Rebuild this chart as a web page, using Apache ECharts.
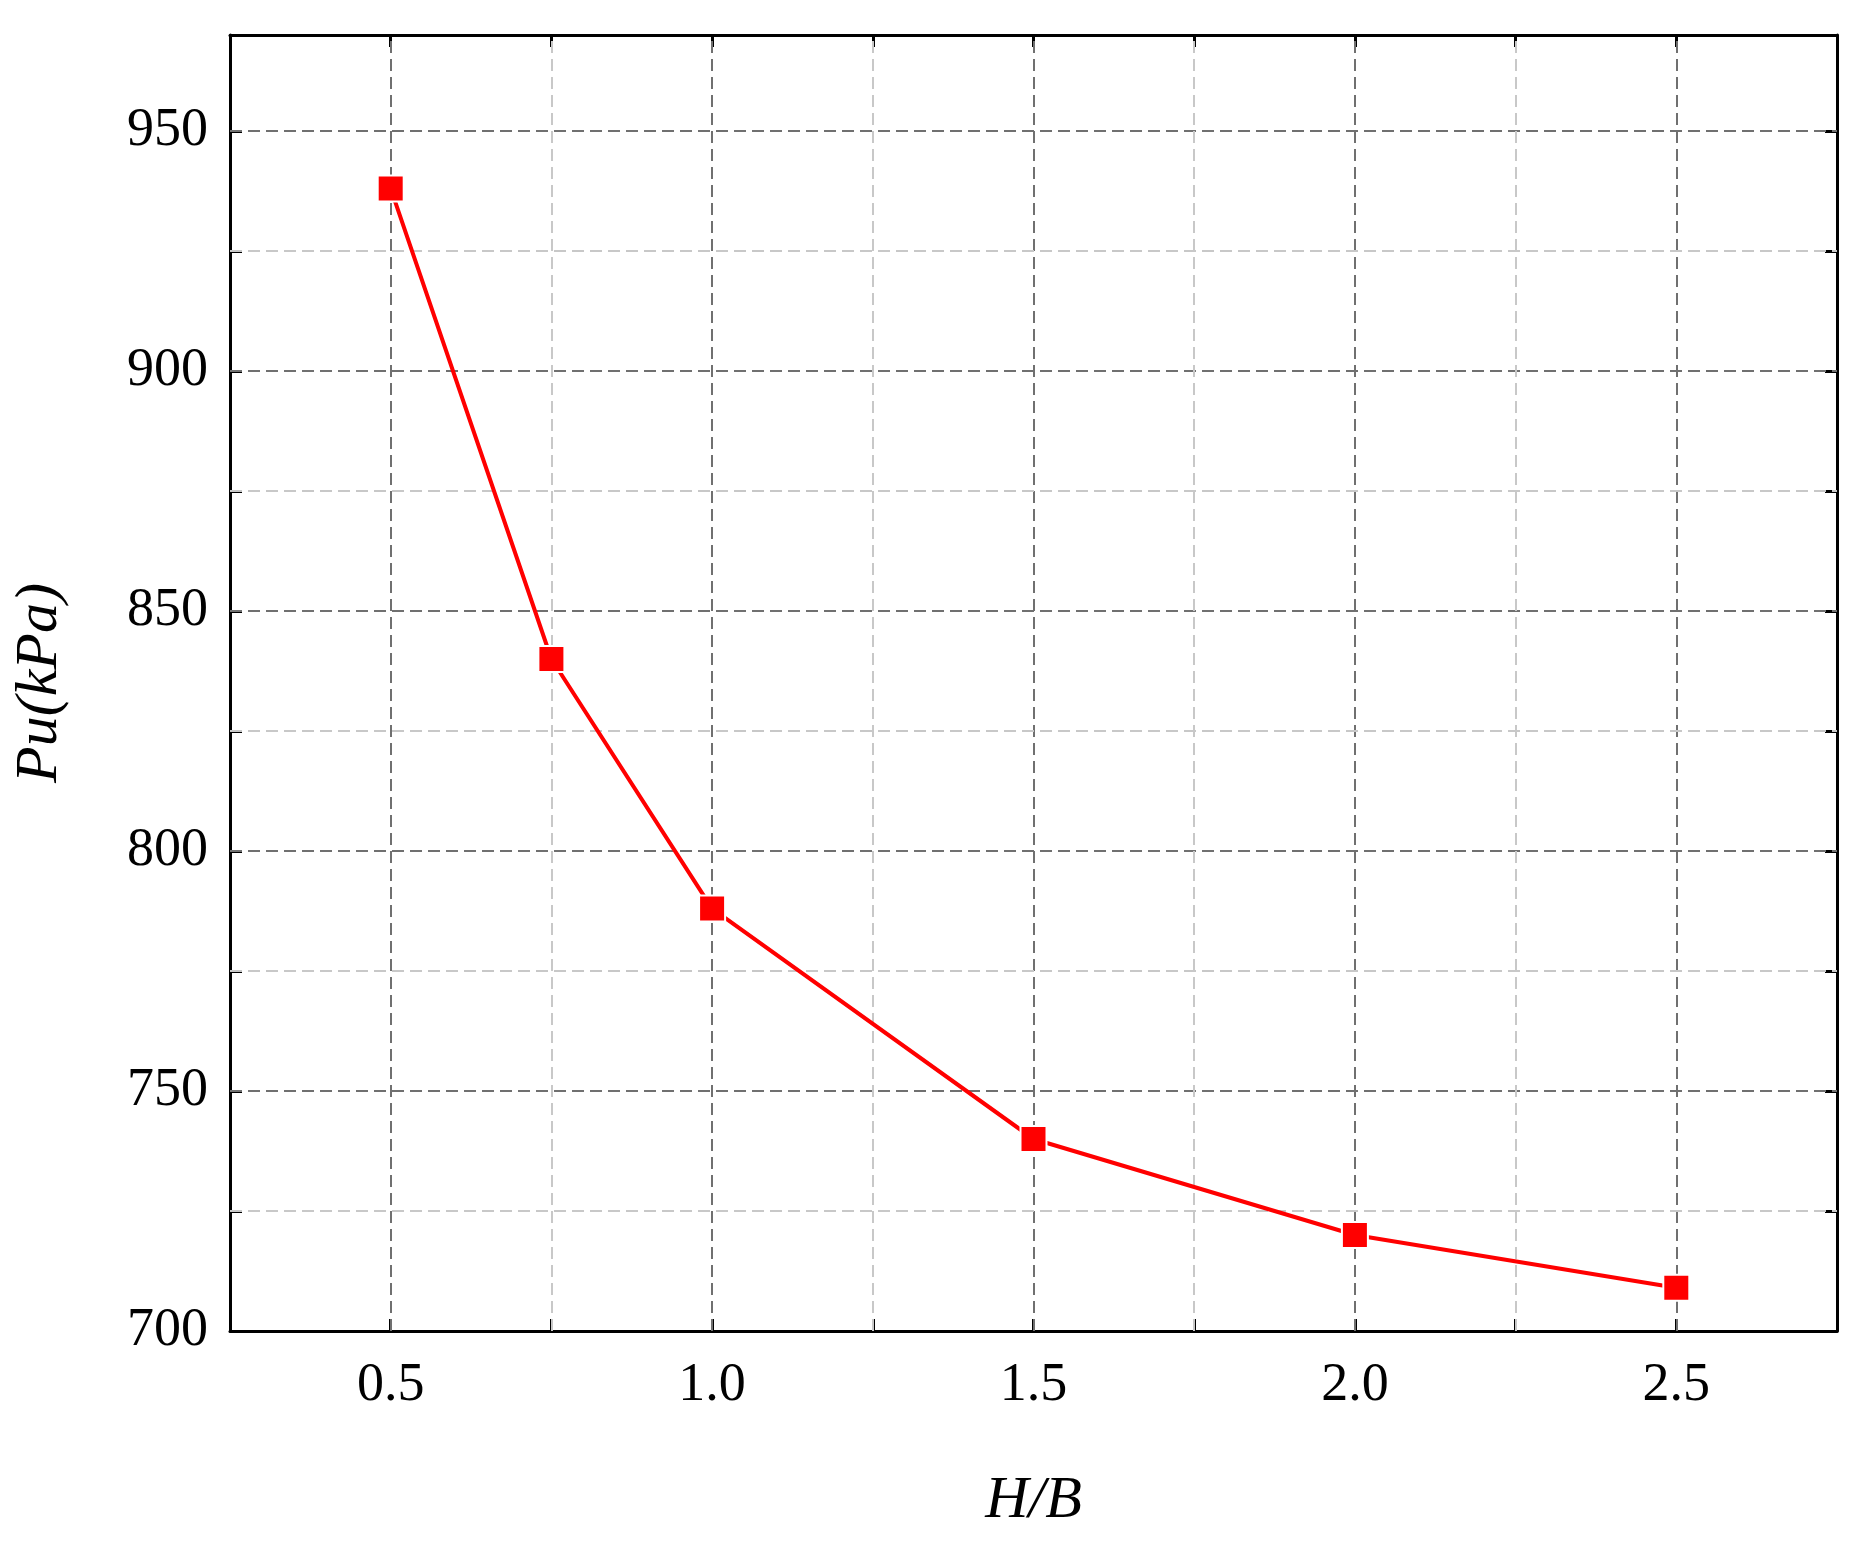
<!DOCTYPE html>
<html>
<head>
<meta charset="utf-8">
<script src="https://cdn.jsdelivr.net/npm/echarts@6/dist/echarts.min.js"></script>
<style>html,body{margin:0;background:#fff}#chart{width:1869px;height:1545px}</style>
</head>
<body>
<div id="chart"></div>
<script>
var ratio = [0.5, 0.75, 1.0, 1.5, 2.0, 2.5];
var pu = [938, 840, 788, 740, 720, 709];
var xMajor = [0.5, 1.0, 1.5, 2.0, 2.5];
var xMinor = [0.75, 1.25, 1.75, 2.25];
var yMajor = [700, 750, 800, 850, 900, 950];
var yMajorInner = [750, 800, 850, 900, 950];
var yMinor = [725, 775, 825, 875, 925];

var FONT = 'Liberation Serif';
var chart = echarts.init(document.getElementById('chart'));

var xBase = {
	type: 'value', min: 0.25, max: 2.75, interval: 0.25,
	axisLine: { onZero: false, lineStyle: { color: '#000', width: 3 } },
	axisTick: { inside: true, length: 12, lineStyle: { width: 3, color: '#000' } },
	splitLine: { show: false }
};
var yBase = {
	type: 'value', min: 700, max: 970, interval: 25,
	axisLine: { onZero: false, lineStyle: { color: '#000', width: 3 } },
	axisTick: { inside: true, length: 12, lineStyle: { width: 3, color: '#000' } },
	splitLine: { show: false }
};

var majorLines = xMajor.map(function (v) { return { xAxis: v }; })
	.concat(yMajorInner.map(function (v) { return { yAxis: v }; }));
var minorLines = xMinor.map(function (v) { return { xAxis: v }; })
	.concat(yMinor.map(function (v) { return { yAxis: v }; }));

chart.setOption({
	backgroundColor: '#fff',
	animation: false,
	grid: { left: 230, right: 32, top: 35, bottom: 214 },
	xAxis: [
		Object.assign({}, xBase, {
			position: 'bottom',
			name: 'H/B', nameLocation: 'middle', nameGap: 140,
			nameTextStyle: { fontFamily: FONT, fontStyle: 'italic', fontSize: 60, color: '#000' },
			axisLabel: { customValues: xMajor, margin: 28, fontFamily: FONT, fontSize: 54, color: '#000',
				formatter: function (v) { return v.toFixed(1); } }
		}),
		Object.assign({}, xBase, { position: 'top', axisLabel: { show: false } })
	],
	yAxis: [
		Object.assign({}, yBase, {
			position: 'left',
			name: 'Pu(kPa)', nameLocation: 'middle', nameGap: 160,
			nameTextStyle: { fontFamily: FONT, fontStyle: 'italic', fontSize: 60, color: '#000' },
			axisLabel: { customValues: yMajor, margin: 22, fontFamily: FONT, fontSize: 54, color: '#000' }
		}),
		Object.assign({}, yBase, { position: 'right', axisLabel: { show: false } })
	],
	series: [{
		type: 'line',
		data: ratio.map(function (x, i) { return [x, pu[i]]; }),
		symbol: 'rect', symbolSize: 26,
		lineStyle: { color: '#ff0000', width: 4 },
		itemStyle: { color: '#ff0000', borderColor: '#fff', borderWidth: 2 },
		z: 5,
		markLine: {
			silent: true, symbol: 'none', label: { show: false },
			lineStyle: { type: [12, 6], color: '#707070', width: 2 },
			data: majorLines, z: 1
		}
	}, {
		type: 'line', data: [], silent: true,
		markLine: {
			silent: true, symbol: 'none', label: { show: false },
			lineStyle: { type: [12, 6], color: '#c8c8c8', width: 2 },
			data: minorLines, z: 1
		}
	}]
});
</script>
</body>
</html>
